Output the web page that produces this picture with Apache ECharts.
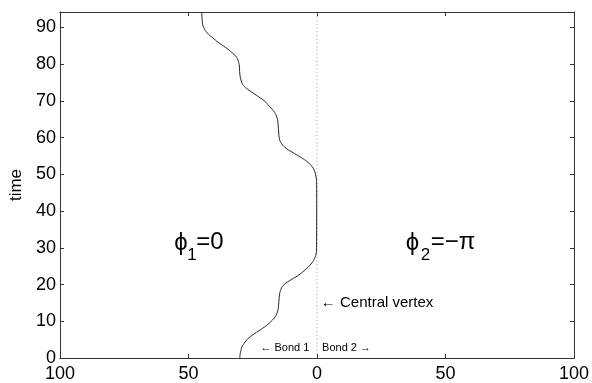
<!DOCTYPE html>
<html>
<head>
<meta charset="utf-8">
<script src="https://cdn.jsdelivr.net/npm/echarts@6/dist/echarts.min.js"></script>
<style>html,body{margin:0;padding:0;background:#fff}#c{width:592px;height:383px}</style>
</head>
<body>
<div id="c"></div>
<script>
// time values (y) and vertex position (x; negative = bond 1, positive = bond 2)
const timeVals = [0, 1, 2, 3, 4, 5.3, 7, 8.5, 10, 11.2, 12.5, 13.9, 15.5, 17.5, 18.7, 19.7, 21, 22.4, 24, 25.6, 27, 28.2, 30, 40, 44.4, 48, 49.4, 50.8, 52.1, 53.2, 54.3, 55.7, 57, 58.4, 59.7, 61.5, 64.2, 65.5, 66.9, 68.5, 70, 71.5, 73.2, 74.2, 75.1, 77.3, 79.5, 80.8, 81.8, 83, 84.5, 86, 87.2, 88.6, 89.9, 91.5, 94.2];
const posVals  = [-30, -29.9, -29.6, -29.2, -28.3, -26.8, -23.5, -20.3, -17.8, -16.3, -15.4, -15, -14.8, -14.5, -14, -13.2, -10.8, -7.5, -4.6, -2.3, -1, -0.4, -0.15, -0.1, -0.1, -0.15, -0.4, -0.9, -1.9, -3.4, -5.5, -8.8, -11.8, -13.8, -14.6, -14.9, -15.2, -15.6, -16.5, -18.5, -20.5, -23.5, -27, -28.6, -29.3, -30, -30.2, -30.6, -31.2, -32.8, -35.5, -38.5, -40.6, -42.8, -44, -44.6, -44.8];
const vertexX = [0, 0];
const vertexT = [0, 94.2];
const xTicks = [-100, -50, 0, 50, 100];
const yTicks = [0, 10, 20, 30, 40, 50, 60, 70, 80, 90];

const curve = timeVals.map((t, i) => [posVals[i], t]);
const vline = vertexT.map((t, i) => [vertexX[i], t]);

const chart = echarts.init(document.getElementById('c'), null, {renderer: 'canvas'});
const font = '"Liberation Sans", Arial, Helvetica, sans-serif';
const axisLine = {show: true, onZero: false, lineStyle: {color: '#333', width: 1}};
const tick = {show: true, inside: true, length: 4, lineStyle: {color: '#333'}};

chart.setOption({
  animation: false,
  backgroundColor: '#fff',
  grid: {left: 57, right: 17, top: 12, bottom: 21.5, containLabel: false},
  xAxis: [
    {type: 'value', min: -100, max: 100, interval: 50, position: 'bottom',
     axisLine: axisLine, axisTick: tick, splitLine: {show: false},
     axisLabel: {color: '#000', fontSize: 18, fontFamily: font, margin: 7,
       formatter: v => (xTicks.indexOf(v) >= 0 ? String(Math.abs(v)) : '')}},
    {type: 'value', min: -100, max: 100, interval: 50, position: 'top',
     axisLine: axisLine, axisTick: tick, splitLine: {show: false}, axisLabel: {show: false}}
  ],
  yAxis: [
    {type: 'value', min: 0, max: 94.2, interval: 10, position: 'left',
     name: 'time', nameLocation: 'middle', nameGap: 31, nameRotate: 90,
     nameTextStyle: {color: '#000', fontSize: 17, fontFamily: font},
     axisLine: axisLine, axisTick: tick, splitLine: {show: false},
     axisLabel: {color: '#000', fontSize: 18, fontFamily: font, margin: 4,
       formatter: v => (yTicks.indexOf(v) >= 0 ? String(v) : '')}},
    {type: 'value', min: 0, max: 94.2, interval: 10, position: 'right',
     axisLine: axisLine, axisTick: tick, splitLine: {show: false}, axisLabel: {show: false}}
  ],
  series: [
    {type: 'line', data: vline, symbol: 'none', silent: true,
     lineStyle: {color: '#aaa', width: 1, type: [1.2, 2.5]}},
    {type: 'line', data: curve, symbol: 'none', smooth: 0.5,
     lineStyle: {color: '#222', width: 1}}
  ]
});

function px(x, y) { return chart.convertToPixel({gridIndex: 0}, [x, y]); }
const a1 = px(-55.5, 31.3);
const a2 = px(34.5, 31.3);
const cv = px(1.5, 14.9);
const b1 = px(1.7, 2.6);
const b2 = px(2, 2.6);
const big = {fill: '#000', fontSize: 24, fontFamily: font, verticalAlign: 'middle'};
const sub = {fill: '#000', fontSize: 17, fontFamily: font, verticalAlign: 'middle'};
chart.setOption({
  graphic: [
    {type: 'text', x: a1[0], y: a1[1], style: Object.assign({text: 'ϕ', align: 'left'}, big)},
    {type: 'text', x: a1[0] + 13, y: a1[1] + 12, style: Object.assign({text: '1', align: 'left'}, sub)},
    {type: 'text', x: a1[0] + 22, y: a1[1] - 1, style: Object.assign({text: '=0', align: 'left'}, big)},
    {type: 'text', x: a2[0], y: a2[1], style: Object.assign({text: 'ϕ', align: 'left'}, big)},
    {type: 'text', x: a2[0] + 15, y: a2[1] + 12, style: Object.assign({text: '2', align: 'left'}, sub)},
    {type: 'text', x: a2[0] + 25, y: a2[1] - 1, style: Object.assign({text: '=−π', align: 'left'}, big)},
    {type: 'text', x: cv[0], y: cv[1], style: {text: '← Central vertex', fill: '#000', fontSize: 15, fontFamily: font, align: 'left', verticalAlign: 'middle'}},
    {type: 'text', x: b1[0] - 12, y: b1[1], style: {text: '← Bond 1', fill: '#000', fontSize: 11, fontFamily: font, align: 'right', verticalAlign: 'middle'}},
    {type: 'text', x: b2[0], y: b2[1], style: {text: 'Bond 2 →', fill: '#000', fontSize: 11, fontFamily: font, align: 'left', verticalAlign: 'middle'}}
  ]
});
</script>
</body>
</html>
